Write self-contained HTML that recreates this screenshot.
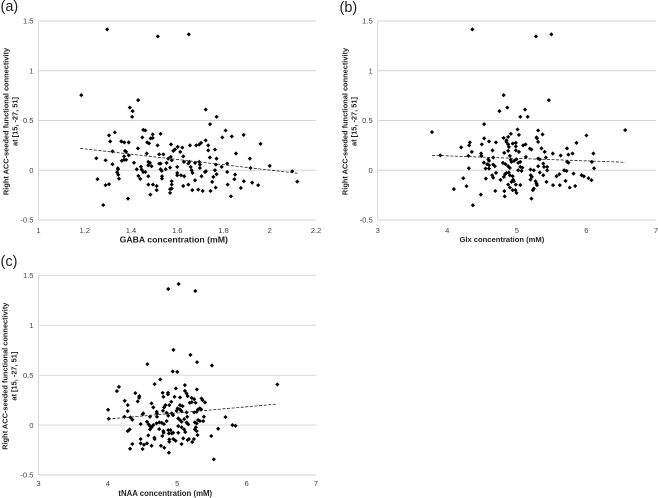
<!DOCTYPE html>
<html lang="en"><head><meta charset="utf-8"><title>Right ACC-seeded functional connectivity vs metabolite concentration</title>
<style>
html,body{margin:0;padding:0;background:#fff}
svg{display:block;font-family:"Liberation Sans",sans-serif;filter:blur(0.35px)}
</style></head>
<body>
<svg id="figure" xmlns="http://www.w3.org/2000/svg" width="658" height="498" viewBox="0 0 658 498"></svg>
<script>
const yTicks = [-0.5, 0, 0.5, 1, 1.5];
const gabaTicks = [1, 1.2, 1.4, 1.6, 1.8, 2, 2.2];
const glxTicks = [3, 4, 5, 6, 7];
const tnaaTicks = [3, 4, 5, 6, 7];
const gabaTrend = [[1.18, 0.22], [2.12, -0.03]];
const glxTrend = [[3.78, 0.15], [6.56, 0.08]];
const tnaaTrend = [[4.0, 0.06], [6.44, 0.21]];
const gabaPoints = [[1.297,1.416],[1.516,1.345],[1.65,1.366],[1.185,.755],[1.395,.63],[1.407,.594],[1.405,.537],[1.431,.705],[1.723,.61],[1.77,.537],[1.742,.463],[1.453,.406],[1.462,.4],[1.449,.33],[1.494,.36],[1.494,.325],[1.485,.32],[1.528,.366],[1.515,.25],[1.47,.28],[1.478,.27],[1.358,.29],[1.371,.28],[1.39,.28],[1.43,.22],[1.374,.195],[1.379,.185],[1.37,.14],[1.39,.15],[1.36,.095],[1.37,.105],[1.379,.105],[1.413,.075],[1.343,.02],[1.344,.01],[1.34,-.02],[1.345,-.045],[1.348,-.085],[1.425,.01],[1.443,.035],[1.446,.007],[1.453,-.017],[1.462,-.017],[1.432,-.057],[1.44,-.087],[1.475,-.06],[1.475,-.144],[1.495,-.144],[1.511,-.158],[1.511,-.2],[1.484,-.245],[1.387,-.285],[1.468,.168],[1.475,.084],[1.482,.074],[1.475,.05],[1.489,.04],[1.522,.067],[1.528,.067],[1.522,.16],[1.54,.16],[1.528,.01],[1.533,-.007],[1.554,.074],[1.55,.01],[1.569,.027],[1.534,-.06],[1.534,-.084],[1.561,.117],[1.572,.134],[1.573,.26],[1.583,.195],[1.59,.21],[1.602,.235],[1.622,.228],[1.613,.185],[1.626,.14],[1.629,.084],[1.576,.1],[1.6,.034],[1.6,-.027],[1.6,-.05],[1.616,-.05],[1.63,-.06],[1.576,-.11],[1.576,-.144],[1.576,-.185],[1.569,-.19],[1.569,-.228],[1.626,-.158],[1.648,-.144],[1.665,-.2],[1.691,-.195],[1.71,-.208],[1.744,-.208],[1.766,-.174],[1.751,-.117],[1.756,-.067],[1.72,-.017],[1.705,-.06],[1.677,-.1],[1.666,-.027],[1.662,0],[1.658,.034],[1.648,.067],[1.652,.084],[1.677,.074],[1.695,.084],[1.698,.057],[1.698,.023],[1.724,-.01],[1.655,.25],[1.695,.258],[1.682,.25],[1.703,.275],[1.723,.3],[1.734,.25],[1.734,.2],[1.763,.208],[1.741,.128],[1.77,.117],[1.767,.057],[1.763,0],[1.77,-.04],[1.795,.33],[1.809,.4],[1.836,.34],[1.887,.355],[1.96,.265],[1.854,.168],[1.914,.117],[1.816,.067],[1.792,.034],[1.816,-.017],[1.85,-.044],[1.847,-.09],[1.818,-.144],[1.832,-.262],[1.875,-.178],[1.888,-.11],[1.924,-.124],[1.95,-.15],[1.917,.023],[2.0,.044],[2.097,-.01],[2.119,-.114],[1.25,.12],[1.255,-.09],[1.29,.1],[1.29,-.15],[1.305,-.14],[1.28,-.35],[1.305,.35],[1.33,.38],[1.31,.29],[1.32,.19],[1.32,.06]];
const glxPoints = [[4.36,1.416],[5.275,1.345],[5.496,1.366],[4.81,.755],[5.46,.705],[4.863,.63],[4.75,.594],[5.118,.61],[5.05,.537],[5.156,.537],[4.53,.463],[3.78,.383],[3.9,.15],[4.2,.23],[4.325,.28],[4.315,.25],[4.353,.185],[4.305,.145],[4.31,.02],[4.23,-.08],[4.095,-.19],[4.277,-.16],[4.483,-.245],[4.368,-.352],[4.497,.26],[4.53,.32],[4.6,.29],[4.7,.28],[4.65,.2],[4.487,.168],[4.49,.144],[4.66,.128],[4.59,.11],[4.6,.094],[4.526,.077],[4.574,.06],[4.6,.05],[4.55,.017],[4.6,.017],[4.66,.057],[4.684,.04],[4.555,-.084],[4.7,-.027],[4.645,-.05],[4.66,-.074],[4.765,-.097],[4.69,-.208],[4.81,.325],[4.85,.3],[4.875,.335],[4.914,.366],[4.85,.285],[4.875,.26],[4.885,.235],[4.875,.195],[4.818,.175],[4.9,.144],[4.94,.268],[4.985,.275],[4.985,.24],[4.985,.2],[5.03,.185],[5.01,.41],[5.03,.355],[4.91,.107],[4.923,.084],[4.96,.094],[4.8,.074],[4.837,.06],[4.875,.04],[4.9,.023],[4.995,.11],[5.02,.074],[5.05,.084],[5.02,0],[5.05,.034],[5.08,.027],[5.067,-.007],[4.85,-.027],[4.83,-.04],[4.813,-.067],[4.885,-.023],[4.9,-.05],[4.94,-.06],[4.947,-.094],[4.957,-.11],[4.923,-.117],[4.875,-.144],[4.9,-.174],[4.94,-.2],[4.98,-.2],[4.995,-.228],[4.82,-.21],[4.825,-.262],[4.985,-.144],[5.05,-.148],[5.09,.25],[5.125,.26],[5.187,.218],[5.21,.208],[5.13,.134],[5.196,.007],[5.244,0],[5.2,-.05],[5.216,-.067],[5.196,-.094],[5.268,-.11],[5.283,-.134],[5.29,-.15],[5.244,-.185],[5.23,-.2],[5.21,-.285],[5.306,.4],[5.283,.33],[5.29,.32],[5.306,.285],[5.37,.36],[5.354,.22],[5.4,.185],[5.306,.117],[5.33,.11],[5.38,.067],[5.306,.04],[5.39,.034],[5.436,.034],[5.436,0],[5.33,-.023],[5.38,-.05],[5.417,.128],[5.426,-.117],[5.52,-.15],[5.517,.168],[5.63,.148],[5.72,.22],[5.74,.157],[5.8,.168],[5.857,.275],[5.723,.084],[5.742,.077],[5.68,0],[5.714,-.007],[5.57,-.06],[5.61,-.04],[5.618,-.15],[5.7,-.107],[5.76,-.174],[5.838,-.158],[5.814,-.034],[5.93,-.05],[5.963,-.06],[6.03,-.08],[6.073,-.1],[6.0,.35],[6.1,.168],[6.078,.084],[6.11,.02],[6.557,.403]];
const tnaaPoints = [[5.02,1.413],[4.87,1.363],[5.26,1.343],[4.945,.753],[5.19,.703],[5.285,.63],[4.57,.61],[5.5,.597],[4.935,.537],[5,.533],[4.755,.457],[4.674,.41],[5.11,.4],[6.443,.407],[4.16,.383],[4.13,.34],[4.396,.32],[4.453,.29],[4.45,.273],[4.43,.237],[4.243,.243],[4.286,.2],[4.286,.14],[4.003,.153],[4.012,.063],[4.238,.083],[4.324,.077],[4.353,.053],[4.286,-.06],[4.314,-.043],[4.353,-.19],[4.32,-.237],[4.5,-.24],[4.473,-.14],[4.473,-.183],[4.52,-.197],[4.564,-.183],[4.63,-.207],[4.583,-.103],[4.67,-.127],[4.674,-.14],[4.607,-.043],[4.63,-.023],[4.473,.01],[4.51,.117],[4.5,.107],[4.564,.033],[4.588,.007],[4.607,-.01],[4.655,0],[4.7,.017],[4.708,.083],[4.703,.133],[4.708,.117],[4.63,.217],[4.655,.177],[4.607,.083],[4.79,.323],[4.8,.283],[4.866,.323],[4.866,.307],[4.98,.367],[4.83,.2],[4.81,.177],[4.794,.143],[4.914,.233],[4.885,.2],[4.96,.283],[5.04,.277],[5.11,.343],[5.134,.317],[5.15,.29],[5.283,.357],[5.206,.273],[5.244,.26],[5.18,.223],[5.21,.23],[5.264,.223],[5.35,.267],[5.364,.25],[5.4,.227],[5.04,.2],[5.077,.19],[5.005,.167],[5.04,.157],[4.99,.143],[5.06,.14],[4.92,.117],[4.94,.1],[4.847,.123],[4.87,.093],[5.144,.083],[5.134,.127],[5.244,.127],[5.28,.133],[5.3,.157],[5.326,.167],[5.345,.157],[5.384,.083],[5.374,.04],[5.326,.04],[5.3,.05],[5.014,.067],[5.04,.05],[5.062,.033],[5.1,.06],[5.134,.027],[5.158,.007],[5.062,-.023],[5.1,-.043],[5.115,-.07],[5.254,.027],[5.28,.017],[5.268,-.023],[5.254,-.043],[5.28,-.06],[5.292,-.1],[4.74,.027],[4.775,.023],[4.808,.01],[4.847,.04],[4.74,-.04],[4.8,-.06],[4.803,-.077],[4.784,-.11],[4.87,-.05],[4.904,-.05],[4.88,-.083],[4.92,-.083],[4.942,-.077],[5.014,-.077],[4.885,-.143],[4.885,-.167],[4.942,-.14],[4.976,-.157],[5.014,-.01],[4.765,-.207],[4.813,-.227],[4.88,-.277],[5.062,-.19],[5.086,-.133],[5.15,-.15],[5.168,-.14],[5.216,-.17],[5.24,-.14],[5.49,-.11],[5.59,-.037],[5.527,-.343],[5.695,.08],[5.796,0],[5.84,-.007]];

const NS = 'http://www.w3.org/2000/svg';
const root = document.getElementById('figure');
function make(parent, tag, attrs, text) {
  const el = document.createElementNS(NS, tag);
  for (const k in attrs) el.setAttribute(k, attrs[k]);
  if (text !== undefined) el.textContent = text;
  parent.appendChild(el);
  return el;
}
function drawPanel(cfg) {
  const xMin = cfg.xTicks[0], xMax = cfg.xTicks[cfg.xTicks.length - 1];
  const yMin = yTicks[0], yMax = yTicks[yTicks.length - 1];
  const sx = v => cfg.left + (v - xMin) / (xMax - xMin) * (cfg.right - cfg.left);
  const sy = v => cfg.bottom - (v - yMin) / (yMax - yMin) * (cfg.bottom - cfg.top);

  const g = make(root, 'g', {});
  
  

  const letter = make(g, 'text', {x: cfg.letterX, y: cfg.letterY, 'font-size': 14.5, fill: '#222'}, '(' + cfg.id + ')');
  
  

  yTicks.forEach(t => {
    const line = make(g, 'line', {x1: cfg.left, x2: cfg.right, y1: sy(t), y2: sy(t), stroke: '#d4d4d4', 'stroke-width': 0.9});
    
    
    const lab = make(g, 'text', {x: cfg.left - 5, y: sy(t) + 2.7, 'font-size': 7.6, fill: '#444', 'text-anchor': 'end'}, String(t));
    
    
  });
  const yAxis = make(g, 'line', {x1: cfg.left, x2: cfg.left, y1: cfg.top, y2: cfg.bottom, stroke: '#d4d4d4', 'stroke-width': 0.9});
  
  

  cfg.xTicks.forEach(t => {
    const lab = make(g, 'text', {x: sx(t), y: cfg.bottom + cfg.xTickDy, 'font-size': 7.6, fill: '#444', 'text-anchor': 'middle'}, String(t));
    
    
  });

  cfg.points.forEach(p => {
    const cx = sx(p[0]), cy = sy(p[1]), r = 2.1;
    const m = make(g, 'polygon', {points: [cx, cy - r, cx + r, cy, cx, cy + r, cx - r, cy].join(' '), fill: '#000'});
    
    
  });

  const tr = make(g, 'line', {x1: sx(cfg.trend[0][0]), y1: sy(cfg.trend[0][1]), x2: sx(cfg.trend[1][0]), y2: sy(cfg.trend[1][1]), stroke: '#222', 'stroke-width': 0.8, 'stroke-dasharray': '3 1.6'});
  
  

  const xt = make(g, 'text', {x: (cfg.left + cfg.right) / 2 + cfg.xTitleDx, y: cfg.bottom + cfg.xTitleDy, 'font-size': cfg.xTitleSize, 'font-weight': 'bold', fill: '#222', 'text-anchor': 'middle'}, cfg.xTitle);
  
  

  const cy = (cfg.top + cfg.bottom) / 2 + 1;
  const yt1 = make(g, 'text', {transform: 'translate(' + cfg.yTitleX + ',' + cy + ') rotate(-90)', 'font-size': 7.4, 'font-weight': 'bold', fill: '#222', 'text-anchor': 'middle'}, 'Right ACC-seeded functional connectivity');
  
  
  const yt2 = make(g, 'text', {transform: 'translate(' + (cfg.yTitleX + 9) + ',' + cy + ') rotate(-90)', 'font-size': 7.4, 'font-weight': 'bold', fill: '#222', 'text-anchor': 'middle'}, 'at [15, -27, 51]');
  
  
}
drawPanel({id: 'a', left: 38.5, right: 316, top: 21, bottom: 220, xTicks: gabaTicks, points: gabaPoints, trend: gabaTrend, xTitle: 'GABA concentration (mM)', xTitleSize: 8.7, xTitleDx: -3.5, xTickDy: 13, xTitleDy: 22.5, yTitleX: 8.5, letterX: 0.5, letterY: 11});
drawPanel({id: 'b', left: 377.7, right: 656, top: 21, bottom: 220, xTicks: glxTicks, points: glxPoints, trend: glxTrend, xTitle: 'Glx concentration (mM)', xTitleSize: 7.6, xTitleDx: -15, xTickDy: 13, xTitleDy: 22, yTitleX: 347.5, letterX: 339.5, letterY: 12});
drawPanel({id: 'c', left: 38.5, right: 316, top: 275.3, bottom: 475, xTicks: tnaaTicks, points: tnaaPoints, trend: tnaaTrend, xTitle: 'tNAA concentration (mM)', xTitleSize: 7.8, xTitleDx: -12, xTickDy: 11, xTitleDy: 21, yTitleX: 7.5, letterX: 0.5, letterY: 266});
</script>
</body></html>
